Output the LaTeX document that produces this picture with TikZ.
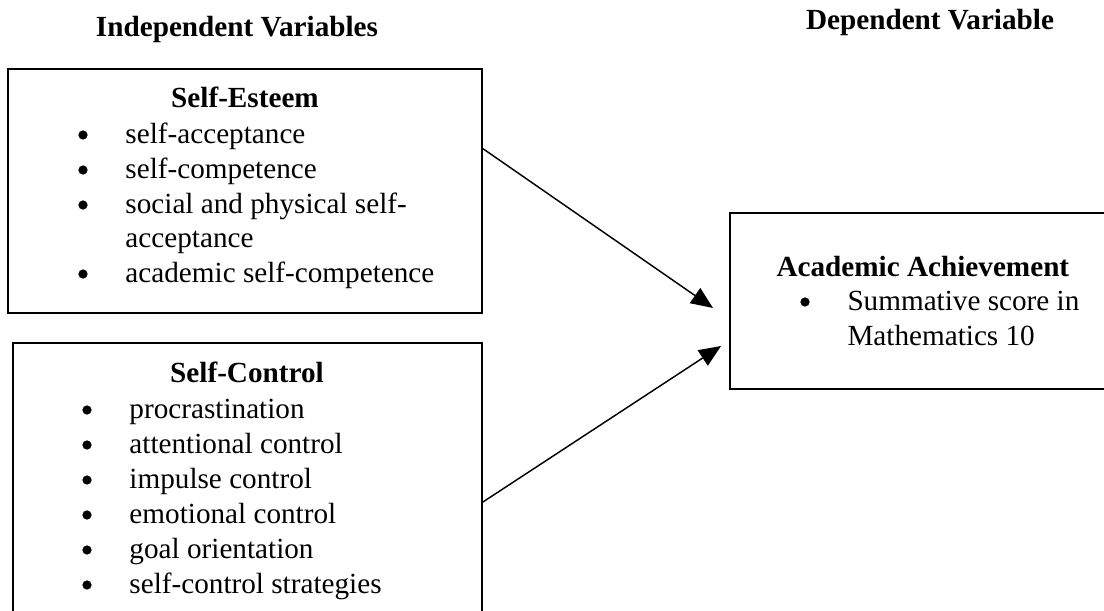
\documentclass[tikz,border=0pt]{standalone}
\usepackage{fontspec}
\setmainfont{Liberation Serif}
\usepackage{tikz}
\usetikzlibrary{arrows.meta,positioning,fit,calc}

\begin{document}
\begin{tikzpicture}[x=0.411pt,y=-0.411pt,
    txt/.style={inner sep=0pt,anchor=base,font=\fontsize{12}{14}\selectfont},
    hd/.style={txt,font=\fontsize{12}{14}\selectfont\bfseries},
    item/.style={txt,anchor=base west},
    dot/.style={circle,fill=black,inner sep=0pt,minimum size=3.8pt},
    boxline/.style={draw=black,line width=0.8pt,inner sep=0pt},
    link/.style={draw=black,line width=0.6pt,-{Triangle[length=9pt,width=7.5pt]}}]
  \useasboundingbox (0,0) rectangle (1104,610);
  \clip (0,0) rectangle (1104,610);

  % column titles
  \node[hd] (indep) at (237,37) {Independent Variables};
  \node[hd] (dep) at (930,30) {Dependent Variable};

  % self-esteem
  \node[boxline,fit={(8,69) (482,313)}] (esteem) {};
  \node[hd] (esteemhd) at (245,107) {Self-Esteem};
  \node[dot] (seb1) at (83,135) {};
  \node[item] (se1) at (125,143) {self-acceptance};
  \node[dot] (seb2) at (83,170) {};
  \node[item] (se2) at (125,178) {self-competence};
  \node[dot] (seb3) at (83,205) {};
  \node[item] (se3) at (125,213) {social and physical self-};
  \node[item] (se3b) at (125,247) {acceptance};
  \node[dot] (seb4) at (83,274) {};
  \node[item] (se4) at (125,282) {academic self-competence};

  % self-control
  \node[boxline,fit={(13,343) (482,640)}] (control) {};
  \node[hd] (controlhd) at (247,382) {Self-Control};
  \node[dot] (scb1) at (87,410) {};
  \node[item] (sc1) at (129,418) {procrastination};
  \node[dot] (scb2) at (87,445) {};
  \node[item] (sc2) at (129,453) {attentional control};
  \node[dot] (scb3) at (87,480) {};
  \node[item] (sc3) at (129,488) {impulse control};
  \node[dot] (scb4) at (87,515) {};
  \node[item] (sc4) at (129,523) {emotional control};
  \node[dot] (scb5) at (87,550) {};
  \node[item] (sc5) at (129,558) {goal orientation};
  \node[dot] (scb6) at (87,585) {};
  \node[item] (sc6) at (129,593) {self-control strategies};

  % academic achievement
  \node[boxline,fit={(730,213) (1120,389)}] (achieve) {};
  \node[hd,anchor=base west] (achievehd) at (776,276) {Academic Achievement};
  \node[dot] (aab1) at (805,302) {};
  \node[item] (aa1) at (847,310) {Summative score in};
  \node[item] (aa1b) at (847,345) {Mathematics 10};

  % arrows
  \coordinate (tip1) at (713,308);
  \coordinate (tip2) at (721,346);
  \draw[link] ($(esteem.north east)!0.328!(esteem.south east)$) -- (tip1);
  \draw[link] ($(control.north east)!0.535!(control.south east)$) -- (tip2);
\end{tikzpicture}
\end{document}
